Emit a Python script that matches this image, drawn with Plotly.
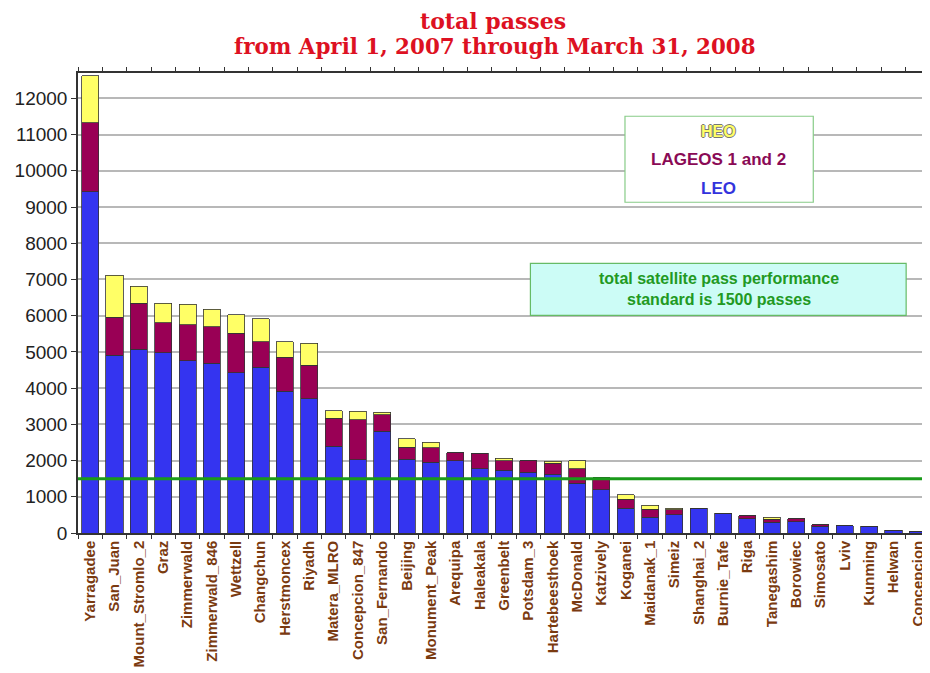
import plotly.graph_objects as go

stations = ["Yarragadee", "San_Juan", "Mount_Stromlo_2", "Graz", "Zimmerwald", "Zimmerwald_846",
            "Wettzell", "Changchun", "Herstmoncex", "Riyadh", "Matera_MLRO", "Concepcion_847",
            "San_Fernando", "Beijing", "Monument_Peak", "Arequipa", "Haleakala", "Greenbelt",
            "Potsdam_3", "Hartebeesthoek", "McDonald", "Katzively", "Koganei", "Maidanak_1",
            "Simeiz", "Shanghai_2", "Burnie_Tafe", "Riga", "Tanegashim", "Borowiec", "Simosato",
            "Lviv", "Kunming", "Helwan", "Concepcion"]

leo = [9420, 4910, 5080, 4980, 4760, 4690, 4420, 4580, 3920, 3710, 2400, 2020, 2810, 2040, 1960,
       2000, 1770, 1730, 1680, 1620, 1380, 1190, 690, 440, 510, 690, 540, 390, 300, 310, 180,
       200, 190, 80, 30]
lageos = [1910, 1040, 1270, 830, 990, 1000, 1100, 700, 930, 920, 770, 1110, 460, 330, 400,
          210, 430, 270, 310, 310, 390, 330, 240, 210, 130, 0, 0, 80, 80, 90, 50,
          0, 0, 0, 0]
heo = [1290, 1170, 460, 540, 560, 490, 500, 640, 430, 610, 210, 230, 70, 230, 140,
       0, 0, 60, 0, 50, 220, 0, 120, 110, 50, 0, 0, 0, 60, 0, 0,
       0, 0, 0, 0]

standard = 1500
y_ticks = list(range(0, 13000, 1000))

C_LEO = "#3434f0"
C_LAG = "#990055"
C_HEO = "#ffff66"
EDGE = "#333333"

fig = go.Figure()
for name, vals, col in [("LEO", leo, C_LEO), ("LAGEOS 1 and 2", lageos, C_LAG), ("HEO", heo, C_HEO)]:
    fig.add_trace(go.Bar(x=stations, y=vals, name=name, marker=dict(color=col, line=dict(color=EDGE, width=0.8)),
                         showlegend=False))

fig.add_hline(y=standard, line=dict(color="#1a9a1a", width=3), layer="above")

# the page body has an 8px default margin, so the figure is sized to fill the rest of the window
fig.update_layout(
    barmode="stack",
    bargap=0.3,
    width=922, height=665,
    margin=dict(l=70, r=0, t=65, b=140),
    paper_bgcolor="white", plot_bgcolor="white",
    font=dict(family="Liberation Sans, Arial", color="#222"),
)

TITLE_FONT = "DejaVu Serif, Liberation Serif, serif"
fig.add_annotation(xref="paper", yref="paper", x=0.487, y=1.114, xanchor="center", yanchor="middle",
                   text="<b>total passes</b>", showarrow=False,
                   font=dict(family=TITLE_FONT, size=22, color="#dd1122"))
fig.add_annotation(xref="paper", yref="paper", x=0.489, y=1.057, xanchor="center", yanchor="middle",
                   text="<b>from April 1, 2007 through March 31, 2008</b>", showarrow=False,
                   font=dict(family=TITLE_FONT, size=21.4, color="#dd1122"))

fig.update_xaxes(
    type="category", tickangle=-90, tickson="boundaries", ticks="outside", ticklen=4,
    tickcolor="#333", showline=True, linecolor="#333", linewidth=1.5, mirror="ticks",
    tickfont=dict(family="Liberation Sans, Arial", size=15, color="#7a3a10", weight="bold"),
    showgrid=False, automargin=False,
)
fig.update_yaxes(
    range=[0, 12700], tickvals=y_ticks, ticktext=[str(v) for v in y_ticks],
    ticks="outside", ticklen=5, tickcolor="#333", showline=True, linecolor="#333", linewidth=1.5,
    showgrid=True, gridcolor="#b8b8b8", gridwidth=1.5, zeroline=False, automargin=False,
    tickfont=dict(family="Liberation Sans, Arial", size=19, color="#222"),
)

# legend box
fig.add_shape(type="rect", xref="paper", yref="paper", x0=0.642, x1=0.863, y0=0.719, y1=0.906,
              line=dict(color="#88cc88", width=1.2), fillcolor="white", layer="above")
outline = "-1px 0 #777, 1px 0 #777, 0 -1px #777, 0 1px #777"
fig.add_annotation(xref="paper", yref="paper", x=0.752, y=0.873, xanchor="center", yanchor="middle",
                   text="<b>HEO</b>", showarrow=False,
                   font=dict(family="Liberation Sans, Arial", size=16, color=C_HEO, shadow=outline))
fig.add_annotation(xref="paper", yref="paper", x=0.752, y=0.811, xanchor="center", yanchor="middle",
                   text="<b>LAGEOS 1 and 2</b>", showarrow=False,
                   font=dict(family="Liberation Sans, Arial", size=17, color="#8a0a55"))
fig.add_annotation(xref="paper", yref="paper", x=0.752, y=0.749, xanchor="center", yanchor="middle",
                   text="<b>LEO</b>", showarrow=False,
                   font=dict(family="Liberation Sans, Arial", size=17, color="#3333dd"))

# performance standard box
fig.add_shape(type="rect", xref="paper", yref="paper", x0=0.531, x1=0.972, y0=0.473, y1=0.586,
              line=dict(color="#66bb66", width=1.2), fillcolor="#ccfcf6", layer="above")
fig.add_annotation(xref="paper", yref="paper", x=0.752, y=0.530, xanchor="center", yanchor="middle",
                   text="<b>total satellite pass performance<br>standard is 1500 passes</b>",
                   showarrow=False,
                   font=dict(family="Liberation Sans, Arial", size=16, color="#229922"))

fig.write_html("out.html")
